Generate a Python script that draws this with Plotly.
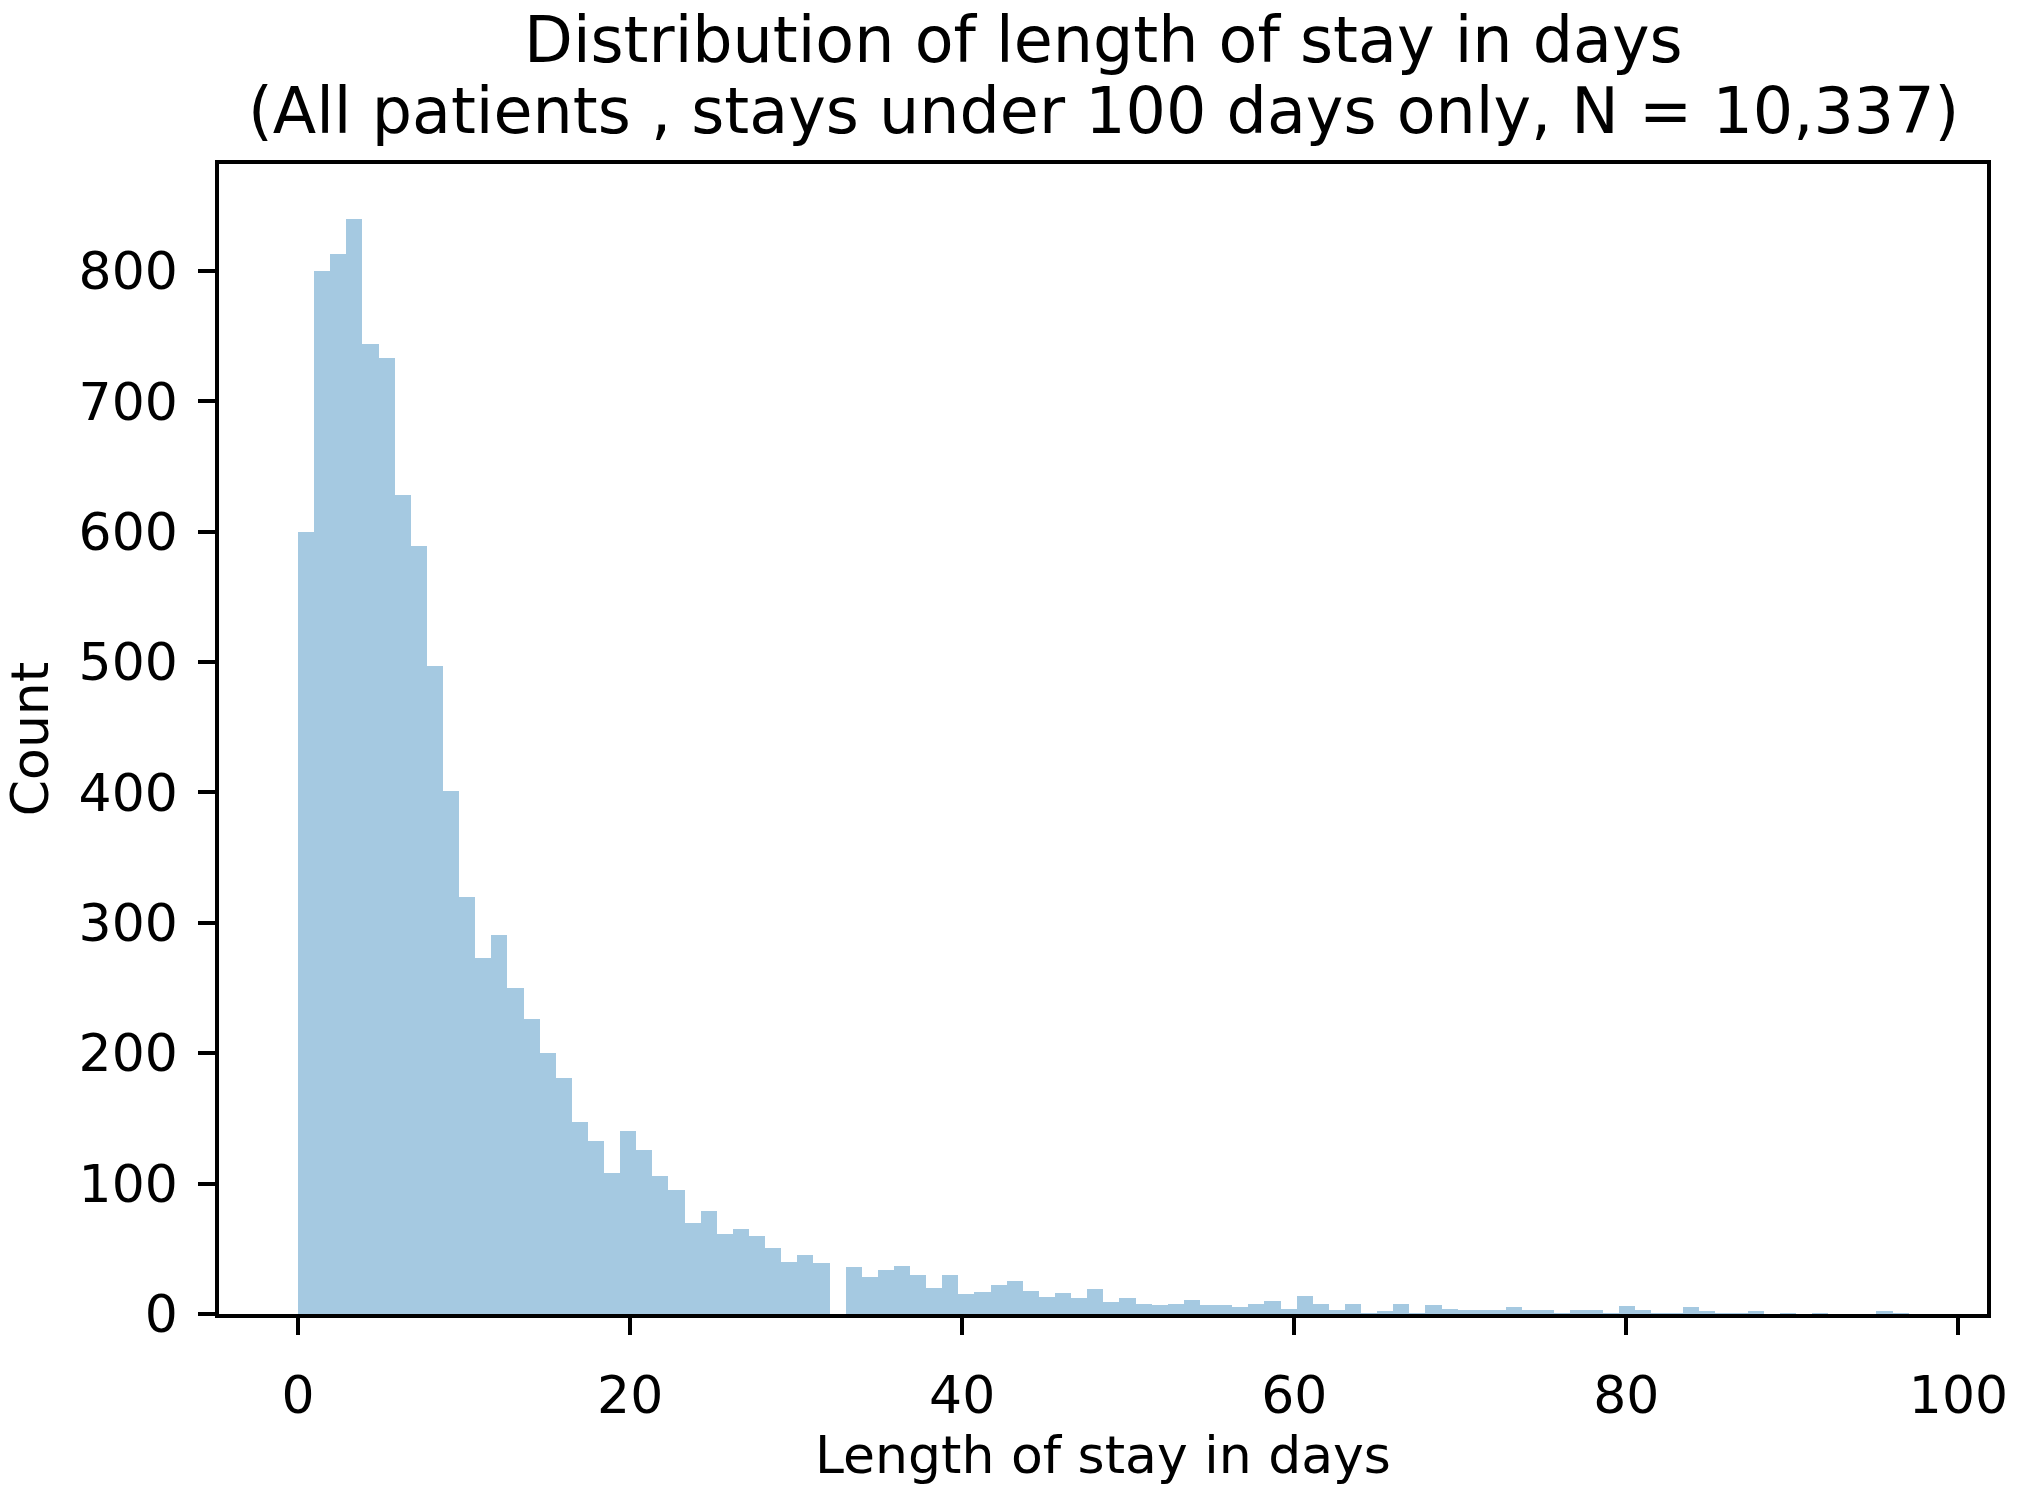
import plotly.graph_objects as go

# histogram of length of stay, 100 bins of 0.97 days each (0 .. 97)
bin_width = 0.97
counts = [
    600, 800, 813, 840, 744, 733, 628, 589, 497, 401,
    320, 273, 291, 250, 226, 200, 181, 147, 133, 108,
    140, 126, 106, 95, 70, 79, 61, 65, 60, 51,
    40, 45, 39, 0, 36, 28, 34, 37, 30, 20,
    30, 15, 17, 22, 25, 18, 13, 16, 12, 19,
    9, 12, 8, 7, 8, 11, 7, 7, 5, 8,
    10, 4, 14, 8, 3, 8, 1, 2, 8, 1,
    7, 4, 3, 3, 3, 5, 3, 3, 1, 3,
    3, 1, 6, 3, 1, 1, 5, 2, 1, 1,
    2, 0, 1, 0, 1, 0, 0, 0, 2, 1,
]
bin_centers = [(i + 0.5) * bin_width for i in range(len(counts))]

x_ticks = [0, 20, 40, 60, 80, 100]
y_ticks = [0, 100, 200, 300, 400, 500, 600, 700, 800]

title_line1 = "Distribution of length of stay in days"
title_line2 = "(All patients , stays under 100 days only, N = 10,337)"

FONT = "DejaVu Sans"

fig = go.Figure()

fig.add_trace(
    go.Bar(
        x=bin_centers,
        y=counts,
        width=bin_width,
        marker=dict(color="rgba(31,119,180,0.4)", line=dict(width=0)),
        hoverinfo="x+y",
    )
)

axis_style = dict(
    showline=True,
    linecolor="black",
    linewidth=3.5,
    mirror=True,
    showgrid=False,
    zeroline=False,
    ticks="outside",
    ticklen=17,
    tickwidth=3.5,
    tickcolor="black",
    tickfont=dict(family=FONT, size=52, color="black"),
    ticklabeloverflow="allow",
)

fig.update_xaxes(
    range=[-4.76, 101.72],
    tickvals=x_ticks,
    title=dict(text="Length of stay in days", font=dict(family=FONT, size=52, color="black"), standoff=2),
    ticklabelstandoff=16,
    **axis_style,
)
fig.update_yaxes(
    range=[0, 882],
    tickvals=y_ticks,
    title=dict(text="Count", font=dict(family=FONT, size=52, color="black"), standoff=19),
    ticklabelstandoff=10,
    **axis_style,
)

fig.add_annotation(
    text=title_line1, xref="paper", yref="paper", x=0.5, y=1.1078,
    xanchor="center", yanchor="middle", showarrow=False,
    font=dict(family=FONT, size=63.5, color="black"),
)
fig.add_annotation(
    text=title_line2, xref="paper", yref="paper", x=0.5, y=1.0465,
    xanchor="center", yanchor="middle", showarrow=False,
    font=dict(family=FONT, size=63.5, color="black"),
)

fig.update_layout(
    width=2020,
    height=1486,
    margin=dict(l=219, r=28, t=164, b=172),
    paper_bgcolor="white",
    plot_bgcolor="white",
    bargap=0,
    showlegend=False,
    font=dict(family=FONT, color="black"),
)

# drop the browser's default 8px body margin so the figure sits at 0,0
fig.write_html(
    "out.html",
    config={"displayModeBar": False},
    post_script="document.body.style.margin = '0';",
)
